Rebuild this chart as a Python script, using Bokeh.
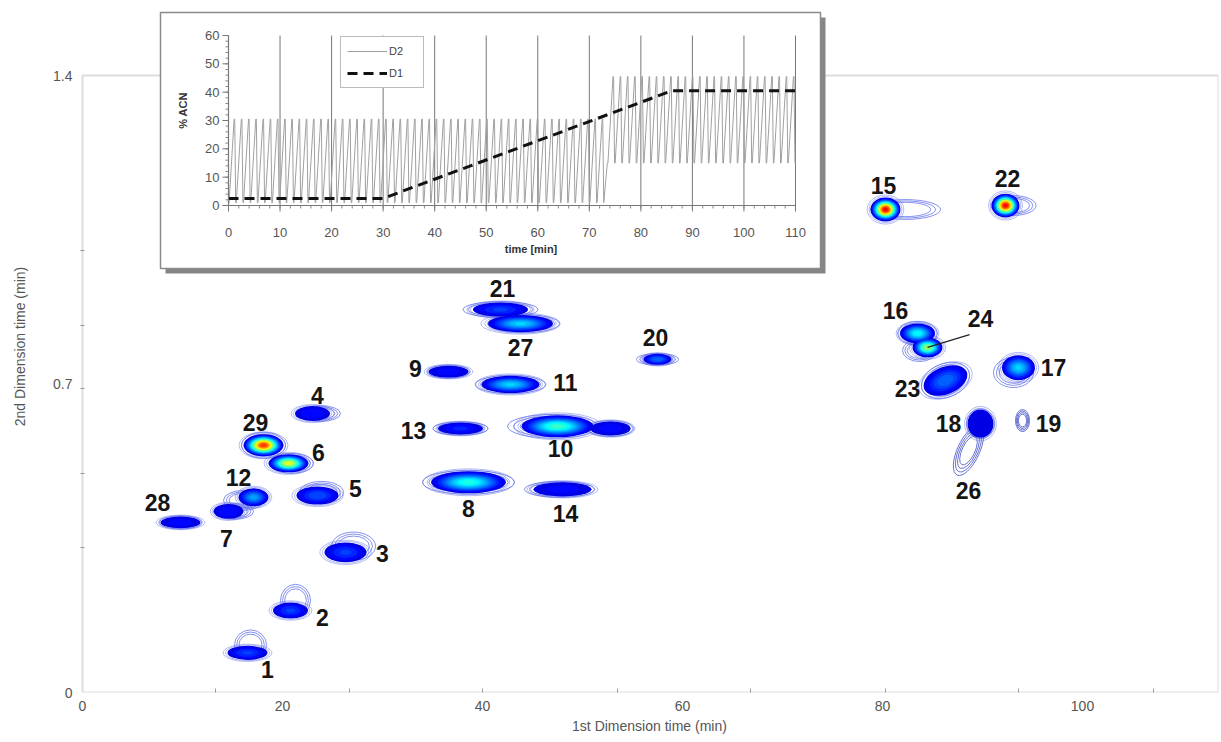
import numpy as np
from bokeh.plotting import figure
from bokeh.models import (Range1d, FixedTicker, BoxAnnotation, ColumnDataSource,
                          Legend, LegendItem)
from bokeh.core.properties import value
from bokeh.embed import file_html
from bokeh.resources import INLINE

FONT = "Liberation Sans"

# ---------------- main 2D chromatogram data ----------------
spot_label = ["1", "2", "3", "4", "5", "6", "29", "12", "7", "28",
              "21", "27", "9", "11", "13", "10", "", "8", "14", "20",
              "15", "22", "16", "24", "23", "17", "18", "26", "19"]
spot_t1 = [16.5, 20.8, 26.3, 23.0, 23.5, 20.6, 18.1, 17.1, 14.6, 9.8,
           41.8, 43.8, 36.6, 42.8, 37.8, 47.5, 52.8, 38.6, 48.0, 57.5,
           80.3, 92.3, 83.5, 84.5, 86.3, 93.6, 89.8, 88.6, 94.0]
spot_t2 = [0.090, 0.186, 0.318, 0.633, 0.447, 0.520, 0.561, 0.443, 0.411, 0.386,
           0.869, 0.837, 0.728, 0.699, 0.599, 0.604, 0.599, 0.477, 0.461, 0.756,
           1.096, 1.105, 0.815, 0.783, 0.708, 0.737, 0.610, 0.549, 0.617]
spot_w1 = [4.0, 3.5, 4.2, 3.5, 4.2, 4.0, 4.0, 3.0, 3.0, 4.0,
           5.5, 6.5, 4.0, 5.8, 4.5, 7.2, 4.0, 7.5, 5.8, 2.8,
           3.0, 2.8, 3.5, 3.0, 4.6, 3.3, 2.6, 5.0, 1.2]
spot_w2 = [0.032, 0.036, 0.045, 0.034, 0.041, 0.041, 0.050, 0.041, 0.034, 0.027,
           0.032, 0.039, 0.027, 0.039, 0.027, 0.050, 0.032, 0.050, 0.032, 0.025,
           0.054, 0.054, 0.045, 0.045, 0.062, 0.057, 0.064, 0.041, 0.045]
spot_peak = [0.20, 0.20, 0.20, 0.16, 0.22, 0.62, 0.85, 0.30, 0.16, 0.15,
             0.20, 0.35, 0.15, 0.35, 0.17, 0.45, 0.15, 0.42, 0.15, 0.25,
             0.90, 0.90, 0.40, 0.55, 0.25, 0.35, 0.12, 0.0, 0.0]
spot_tilt = [0, 0, 0, 0, 0, 0, 0, 0, 0, 0,
             0, 0, 0, 0, 0, 0, 0, 0, 0, 0,
             0, 0, 0, 0, 22, 0, 0, 65, 0]

x_tick_labels = [0, 20, 40, 60, 80, 100]
x_tick_marks = [13.3, 26.7, 40.0, 53.5, 66.8, 80.3, 93.6, 107.1]
y_tick_labels = [0, 0.7, 1.4]
y_tick_marks = [0.329, 0.497, 0.69, 0.833, 1.003]

# ---------------- inset (gradient program) data ----------------
inset_t_ticks = [0, 10, 20, 30, 40, 50, 60, 70, 80, 90, 100, 110]
inset_acn_ticks = [0, 10, 20, 30, 40, 50, 60]
d1_t = [0, 30, 86, 110]
d1_acn = [2.5, 2.5, 40.5, 40.5]
d2_seg_start = [0.0, 73.5]
d2_seg_end = [73.0, 110.0]
d2_low = [1.0, 15.0]
d2_high = [30.5, 45.5]
d2_period = 1.4
d2_cycle_frac_t = [0.0, 0.08, 0.78, 0.86, 1.0]
d2_cycle_frac_v = [0.0, 0.0, 1.0, 1.0, 0.0]

# ---------------- styling (halo contours, label offsets) ----------------
halo_dx = [0.3, 0.5, 0.8, 0.8, 0.4, 0.3, 0, -1.0, 0.6, 0,
           0, 0.3, 0, 0, 0, -0.5, 0, 0, -0.3, 0,
           2.0, 0.8, 0, -0.8, 0, -0.5, 0, 0, 0]
halo_dy = [0.018, 0.023, 0.014, 0, 0.007, 0, 0, -0.007, 0, 0,
           0, 0, 0, 0, 0, 0, 0, 0, 0, 0,
           0, 0, 0, -0.007, 0, -0.011, 0, 0, 0]
halo_w = [3.2, 3.0, 4.4, 4.0, 4.4, 4.4, 4.4, 4.0, 3.8, 4.2,
          7.5, 7.2, 4.2, 7.0, 5.5, 9.0, 4.6, 9.2, 7.0, 4.2,
          7.0, 4.5, 4.0, 3.4, 5.0, 4.0, 2.8, 5.4, 1.4]
halo_h = [0.068, 0.073, 0.064, 0.036, 0.050, 0.045, 0.059, 0.045, 0.036, 0.030,
          0.036, 0.041, 0.030, 0.041, 0.030, 0.054, 0.036, 0.054, 0.036, 0.027,
          0.045, 0.045, 0.054, 0.050, 0.077, 0.068, 0.068, 0.050, 0.050]
label_dx = [20, 32, 37, 5, 38, 30, -8, -15, -2, -23,
            2, 0, -33, 55, -47, 3, 0, 0, 3, -2,
            -2, 2, -22, 53, -38, 35, -32, 0, 26]
label_dy = [17, 7, 1, -18, -7, -11, -23, -20, 27, -20,
            -21, 24, -3, -2, 2, 22, 0, 26, 24, -22,
            -24, -27, -23, -29, 8, 0, 0, 40, 3]
leader_label = ["24"]
leader_len_px = [44]
leader_angle_deg = [17]

# ---------------- layout constants ----------------
W, H = 1221, 742
BL, BR, BT, BB = 80, 3, 0, 50
fw, fh = W - BL - BR, H - BT - BB
X0_PX = 82       # canvas px of 1st-dim time 0
X_PX = 10.0      # px per min (1st dim)
Y_PX = 440.7     # px per min (2nd dim)
IN_X0, IN_Y0 = 228, 205      # canvas px of inset origin
IN_SX, IN_SY = 5.1545, 2.8333  # inset px per min / per %
PANEL = (160, 820, 12, 268)   # inset panel left, right, top, bottom (px)
SHADOW = 5
LEGEND_PX = (340, 88)         # legend left, bottom (px)

x_start = -(X0_PX - BL) / X_PX
ix_start = -(IN_X0 - BL) / IN_SX
iy_start = -(BT + fh - IN_Y0) / IN_SY


def ipx(px):
    return (px - IN_X0) / IN_SX


def ipy(py):
    return (IN_Y0 - py) / IN_SY


def jet(v):
    r = float(np.clip(1.5 - abs(4 * v - 3), 0, 1))
    g = float(np.clip(1.5 - abs(4 * v - 2), 0, 1))
    b = float(np.clip(1.5 - abs(4 * v - 1), 0, 1))
    return "#%02x%02x%02x" % (int(r * 255), int(g * 255), int(b * 255))


p = figure(width=W, height=H, title=None,
           x_range=Range1d(x_start, x_start + fw / X_PX), y_range=Range1d(0, fh / Y_PX),
           output_backend="svg", toolbar_location=None,
           min_border_left=BL, min_border_right=BR, min_border_top=BT, min_border_bottom=BB)
p.extra_x_ranges = {"ix": Range1d(ix_start, ix_start + fw / IN_SX)}
p.extra_y_ranges = {"iy": Range1d(iy_start, iy_start + fh / IN_SY)}
p.grid.visible = False
p.outline_line_color = None
p.background_fill_color = "white"
p.border_fill_color = "white"

# axes
for ax, ticks, marks in ((p.xaxis[0], x_tick_labels, x_tick_marks),
                         (p.yaxis[0], y_tick_labels, y_tick_marks)):
    ax.ticker = FixedTicker(ticks=ticks, minor_ticks=marks)
    ax.axis_line_color = None
    ax.major_tick_in = 0
    ax.major_tick_out = 0
    ax.minor_tick_in = 4
    ax.minor_tick_out = 0
    ax.minor_tick_line_color = "#999999"
    ax.major_label_text_font = FONT
    ax.major_label_text_font_size = "14px"
    ax.major_label_text_color = "#555555"
    ax.axis_label_text_font = FONT
    ax.axis_label_text_font_size = "14px"
    ax.axis_label_text_font_style = "normal"
    ax.axis_label_text_color = "#555555"
p.xaxis[0].axis_label = "1st Dimension time (min)"
p.xaxis[0].major_label_standoff = 8
p.xaxis[0].axis_label_standoff = 4
p.yaxis[0].axis_label = "2nd Dimension time (min)"
p.yaxis[0].major_label_standoff = 8
p.yaxis[0].axis_label_standoff = 22
p.yaxis[0].major_label_orientation = "horizontal"

# main frame box
p.add_layout(BoxAnnotation(left=0, bottom=0, top=1.4, fill_color=None, line_color="#8a8a8a",
                           line_width=2, level="underlay"))

# ---------------- spots ----------------
levels = np.arange(0.10, 1.0, 0.03)
fill = dict(x=[], y=[], w=[], h=[], a=[], c=[], v=[])
rings = dict(x=[], y=[], w=[], h=[], a=[])
halos = dict(x=[], y=[], w=[], h=[], a=[], c=[])
for i in range(len(spot_label)):
    pk = spot_peak[i]
    for s in (1.0, 0.86, 0.72, 0.58):
        if pk <= 0 or s >= 0.72:
            halos["x"].append(spot_t1[i] + halo_dx[i])
            halos["y"].append(spot_t2[i] + halo_dy[i])
            halos["w"].append(halo_w[i] * s)
            halos["h"].append(halo_h[i] * s)
            halos["a"].append(spot_tilt[i])
            halos["c"].append("#2c3cc0" if pk <= 0 else "#5566e6")
    if pk <= 0:
        continue
    for s in (1.22, 1.1):
        rings["x"].append(spot_t1[i]); rings["y"].append(spot_t2[i])
        rings["w"].append(spot_w1[i] * s); rings["h"].append(spot_w2[i] * s)
        rings["a"].append(spot_tilt[i])
    base = levels[0]
    for v in levels:
        if v >= pk:
            break
        r = np.sqrt(np.log(pk / v) / np.log(pk / base)) if pk > base else 1.0
        fill["x"].append(spot_t1[i]); fill["y"].append(spot_t2[i])
        fill["w"].append(spot_w1[i] * r); fill["h"].append(spot_w2[i] * r)
        fill["a"].append(spot_tilt[i]); fill["c"].append(jet(v)); fill["v"].append(v)

order = np.argsort(fill["v"], kind="stable")
fill = {k: [fill[k][j] for j in order] for k in fill}

p.ellipse(x="x", y="y", width="w", height="h", angle="a", angle_units="deg",
          fill_color=None, line_color="c", line_width=0.9, line_alpha=0.8,
          source=ColumnDataSource(halos))
p.ellipse(x="x", y="y", width="w", height="h", angle="a", angle_units="deg",
          fill_color=None, line_color="#6070ea", line_width=0.8, line_alpha=0.6,
          source=ColumnDataSource(rings))
p.ellipse(x="x", y="y", width="w", height="h", angle="a", angle_units="deg",
          fill_color="c", line_color=None, source=ColumnDataSource(fill))

# leader line for spot 24
li = [spot_label.index(s) for s in leader_label]
p.ray(x=[spot_t1[i] for i in li], y=[spot_t2[i] for i in li], length=leader_len_px,
      length_units="screen", angle=leader_angle_deg, angle_units="deg",
      line_color="#222222", line_width=1.2)

p.text(x=spot_t1, y=spot_t2, text=spot_label, x_offset=label_dx, y_offset=label_dy,
       text_align="center", text_baseline="middle", text_font=value(FONT),
       text_font_size="23px", text_font_style="bold", text_color="#151515")

# ---------------- inset ----------------
IR = dict(x_range_name="ix", y_range_name="iy")
pl, pr, pt, pb = PANEL
p.quad(left=[ipx(pl + SHADOW)], right=[ipx(pr + SHADOW)], top=[ipy(pt + SHADOW)],
       bottom=[ipy(pb + SHADOW)], fill_color="#858585", line_color=None, **IR)
p.quad(left=[ipx(pl)], right=[ipx(pr)], top=[ipy(pt)], bottom=[ipy(pb)],
       fill_color="white", line_color="#8a8a8a", line_width=1.5, **IR)

# vertical grid lines
p.segment(x0=inset_t_ticks[1:], y0=[inset_acn_ticks[0]] * (len(inset_t_ticks) - 1),
          x1=inset_t_ticks[1:], y1=[inset_acn_ticks[-1]] * (len(inset_t_ticks) - 1),
          line_color="#777777", line_width=1, **IR)

# D2 program: repeated modulation cycles
d2_t, d2_v = [], []
for s, e, lo, hi in zip(d2_seg_start, d2_seg_end, d2_low, d2_high):
    n = int(round((e - s) / d2_period))
    for k in range(n):
        t0 = s + k * d2_period
        for ft, fv in zip(d2_cycle_frac_t, d2_cycle_frac_v):
            d2_t.append(t0 + ft * d2_period)
            d2_v.append(lo + fv * (hi - lo))
r_d2 = p.line(d2_t, d2_v, line_color="#a0a0a0", line_width=1, **IR)
r_d1 = p.line(d1_t, d1_acn, line_color="#111111", line_width=3, line_dash="10 6", **IR)

# inset axes
p.segment(x0=[inset_t_ticks[0]], y0=[0], x1=[inset_t_ticks[-1]], y1=[0],
          line_color="#777777", line_width=1.2, **IR)
p.segment(x0=[0], y0=[inset_acn_ticks[0]], x1=[0], y1=[inset_acn_ticks[-1]],
          line_color="#777777", line_width=1.2, **IR)
minor_t = np.arange(inset_t_ticks[0], inset_t_ticks[-1] + 0.1, 2.0)
minor_a = np.arange(inset_acn_ticks[0], inset_acn_ticks[-1] + 0.1, 2.0)
p.ray(x=minor_t, y=[0] * len(minor_t), length=3, length_units="screen", angle=-90,
      angle_units="deg", line_color="#888888", line_width=1, **IR)
p.ray(x=inset_t_ticks, y=[0] * len(inset_t_ticks), length=6, length_units="screen",
      angle=-90, angle_units="deg", line_color="#777777", line_width=1, **IR)
p.ray(x=[0] * len(minor_a), y=minor_a, length=3, length_units="screen", angle=180,
      angle_units="deg", line_color="#888888", line_width=1, **IR)
p.ray(x=[0] * len(inset_acn_ticks), y=inset_acn_ticks, length=6, length_units="screen",
      angle=180, angle_units="deg", line_color="#777777", line_width=1, **IR)
p.text(x=inset_t_ticks, y=[0] * len(inset_t_ticks), text=[str(t) for t in inset_t_ticks],
       y_offset=27, text_align="center", text_baseline="middle", text_font=value(FONT),
       text_font_size="13px", text_color="#555555", **IR)
p.text(x=[0] * len(inset_acn_ticks), y=inset_acn_ticks,
       text=[str(t) for t in inset_acn_ticks], x_offset=-9, text_align="right",
       text_baseline="middle", text_font=value(FONT), text_font_size="13px",
       text_color="#555555", **IR)
p.text(x=[(inset_t_ticks[0] + inset_t_ticks[-1]) / 2], y=[0], text=["time [min]"],
       x_offset=19, y_offset=43, text_align="center", text_baseline="middle",
       text_font=value(FONT), text_font_size="11px", text_font_style="bold",
       text_color="#333333", **IR)
p.text(x=[0], y=[(inset_acn_ticks[0] + inset_acn_ticks[-1]) / 2], text=["% ACN"],
       x_offset=-46, y_offset=-10, angle=np.pi / 2, text_align="center",
       text_baseline="middle", text_font=value(FONT), text_font_size="11px",
       text_font_style="bold", text_color="#333333", **IR)

legend = Legend(items=[LegendItem(label="D2", renderers=[r_d2]),
                       LegendItem(label="D1", renderers=[r_d1])],
                location=(LEGEND_PX[0] - BL, H - BB - LEGEND_PX[1]),
                label_text_font=FONT, label_text_font_size="11px",
                label_text_color="#444444", glyph_width=40, glyph_height=16,
                label_width=28, label_standoff=2, spacing=6, padding=6, margin=0,
                border_line_color="#777777", border_line_width=1,
                background_fill_color="white", background_fill_alpha=1)
p.add_layout(legend)

open("out.html", "w").write(file_html(p, INLINE))
